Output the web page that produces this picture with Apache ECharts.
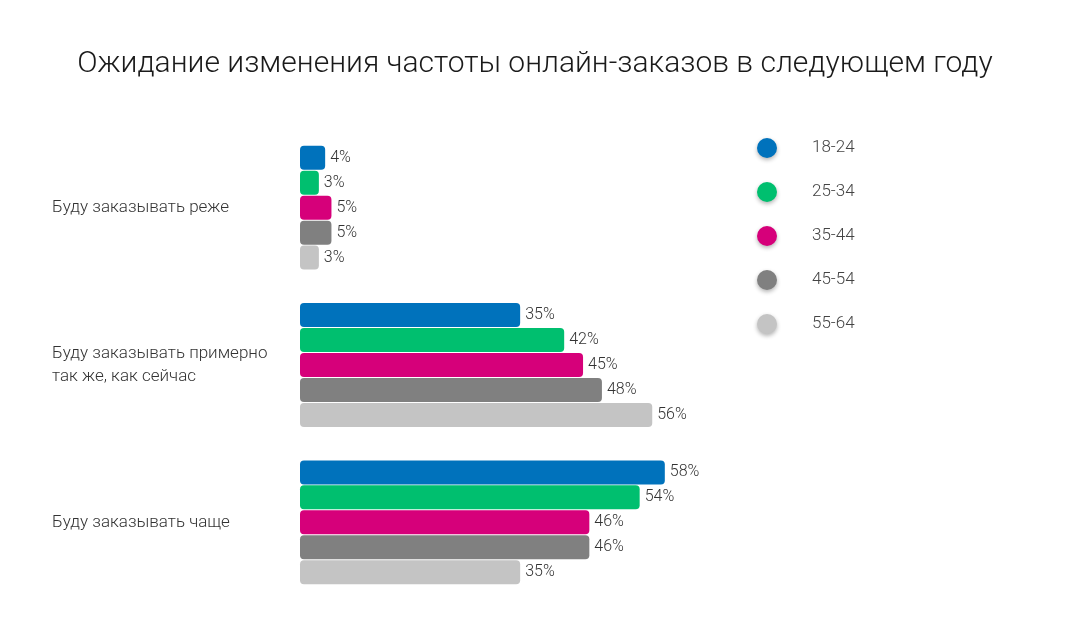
<!DOCTYPE html>
<html>
<head>
<meta charset="utf-8">
<script src="https://cdn.jsdelivr.net/npm/echarts@6/dist/echarts.min.js"></script>
<style>
  html, body { margin: 0; padding: 0; background: #fff; }
  #chart { width: 1070px; height: 626px; }
</style>
</head>
<body>
<div id="chart"></div>
<script>
const categories = [
    'Буду заказывать реже',
    'Буду заказывать примерно\nтак же, как сейчас',
    'Буду заказывать чаще'
];
const ageGroups = ['18-24', '25-34', '35-44', '45-54', '55-64'];
const colors = ['#0072BC', '#00BF6F', '#D6007A', '#808080', '#C4C4C4'];

// значения по возрастным группам (в %), порядок как в categories
const values = [
    [4, 35, 58],
    [3, 42, 54],
    [5, 45, 46],
    [5, 48, 46],
    [3, 56, 35]
];

const myChart = echarts.init(document.getElementById('chart'));

const option = {
    textStyle: { fontFamily: 'Roboto' },
    title: {
        text: 'Ожидание изменения частоты онлайн-заказов в следующем году',
        left: 'center',
        top: 44,
        textStyle: {
            fontFamily: 'Roboto',
            fontSize: 30,
            fontWeight: 300,
            color: '#1a1a1a'
        }
    },
    legend: {
        data: ageGroups,
        orient: 'vertical',
        left: 752,
        top: 133,
        itemWidth: 20,
        itemHeight: 20,
        itemGap: 24,
        icon: 'circle',
        itemStyle: {
            shadowBlur: 4,
            shadowColor: 'rgba(0,0,0,0.3)',
            shadowOffsetY: 2
        },
        textStyle: {
            fontFamily: 'Roboto',
            fontSize: 17,
            fontWeight: 300,
            color: '#444',
            padding: [0, 0, 0, 30]
        }
    },
    grid: {
        left: 300,
        right: 141,
        top: 129,
        bottom: 25,
        containLabel: false
    },
    xAxis: {
        type: 'value',
        min: 0,
        max: 100,
        show: false
    },
    yAxis: {
        type: 'category',
        data: categories,
        inverse: true,
        axisLine: { show: false },
        axisTick: { show: false },
        axisLabel: {
            align: 'left',
            margin: 248,
            fontFamily: 'Roboto',
            fontSize: 17,
            fontWeight: 300,
            lineHeight: 23,
            color: '#333'
        }
    },
    series: ageGroups.map((name, i) => ({
        name: name,
        type: 'bar',
        data: values[i],
        barWidth: 24,
        barGap: '4%',
        itemStyle: {
            color: colors[i],
            borderRadius: 4
        },
        label: {
            show: true,
            position: 'right',
            distance: 5,
            formatter: '{c}%',
            fontFamily: 'Roboto',
            fontSize: 16,
            fontWeight: 300,
            color: '#333'
        }
    }))
};

myChart.setOption(option);

window.addEventListener('resize', () => {
    myChart.resize();
});
</script>
</body>
</html>
